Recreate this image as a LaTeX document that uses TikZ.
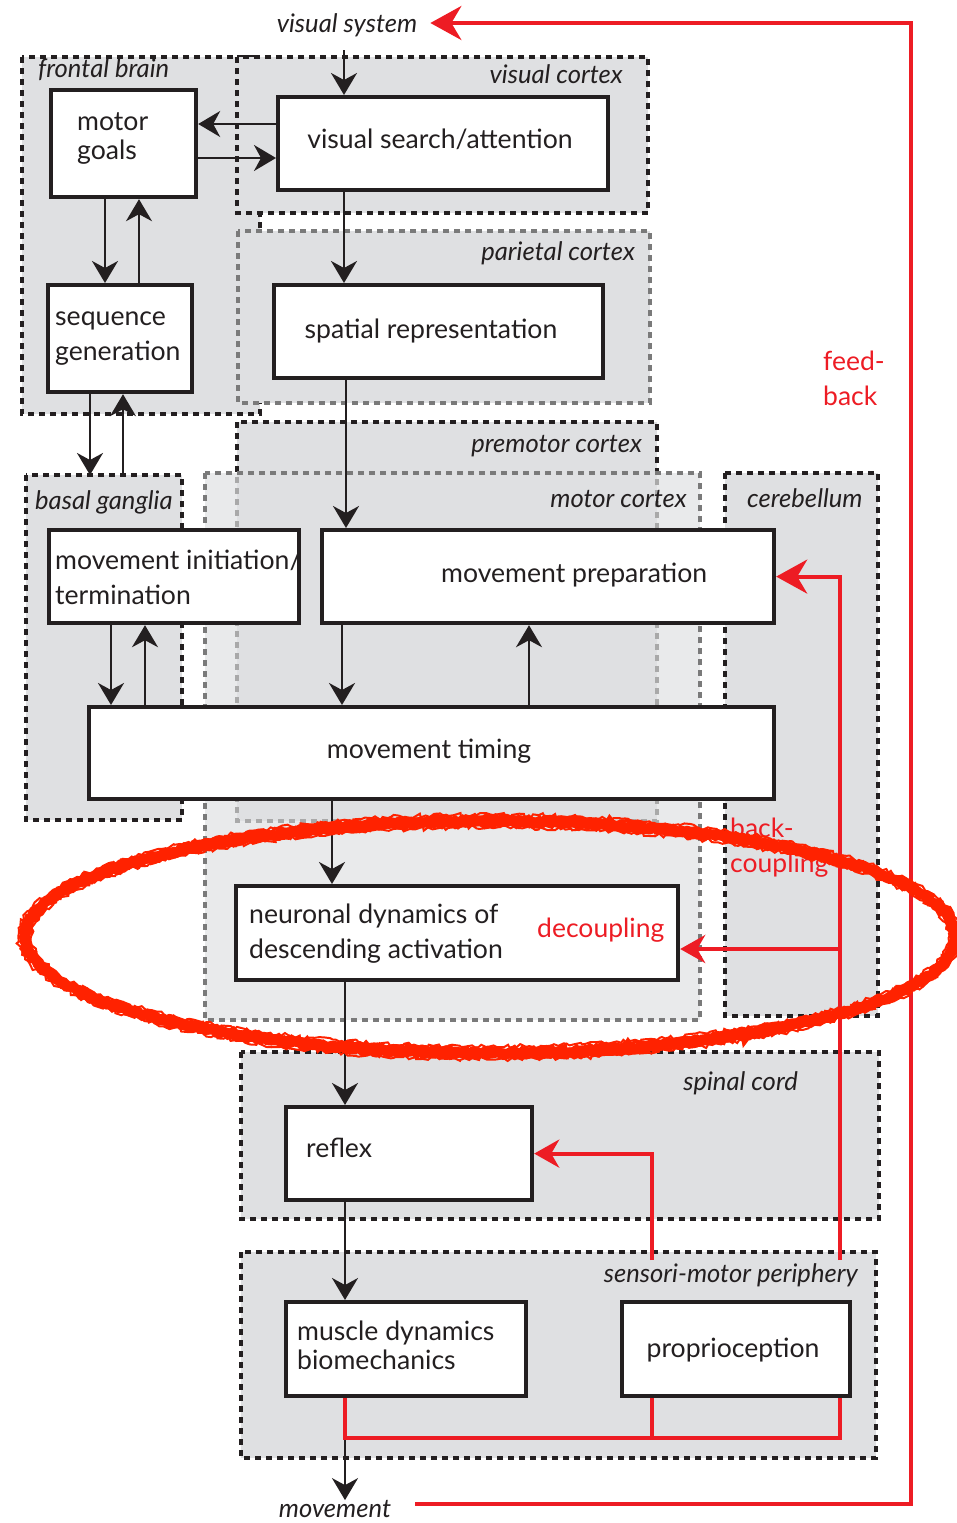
\documentclass[tikz,border=0pt]{standalone}
\usepackage{fontspec}
\setmainfont{Lato}
\usetikzlibrary{arrows.meta,decorations.pathmorphing}
\definecolor{ink}{HTML}{231F20}
\definecolor{regiongray}{HTML}{DFE0E2}
\definecolor{motorgray}{HTML}{E9EAEB}
\definecolor{dashgray}{HTML}{7A7A7A}
\definecolor{fadegray}{HTML}{A9A9A9}
\definecolor{fbred}{HTML}{ED1C24}
\definecolor{markred}{HTML}{FF2200}
\newcommand\twoline[2]{\begin{tabular}[t]{@{}l@{}}#1\\#2\end{tabular}}
\begin{document}
\begin{tikzpicture}[x=1pt,y=-1pt,
  region/.style={fill=regiongray, draw=ink, line width=4pt, dash pattern=on 6pt off 5pt},
  greyregion/.style={region, draw=dashgray},
  box/.style={draw=ink, fill=white, line width=4.2pt, anchor=north west, inner sep=0pt},
  txt/.style={font=\fontsize{26.6}{35}\selectfont, inner sep=0pt, text=ink},
  txtnarrow/.style={font=\fontsize{26.6}{29}\selectfont, inner sep=0pt, text=ink},
  lab/.style={font=\fontsize{25.6}{28}\selectfont\itshape, inner sep=0pt, text=ink},
  redtxt/.style={font=\fontsize{26.5}{35}\selectfont, inner sep=0pt, text=fbred},
  arr/.style={draw=ink, line width=2.2pt, -{Stealth[length=22pt, width=26pt, inset=7pt]}},
  redline/.style={draw=fbred, line width=4pt},
  redarr/.style={redline, -{Stealth[length=25pt, width=28pt, inset=8pt]}},
  bigredarr/.style={redline, -{Stealth[length=31pt, width=34pt, inset=10pt]}},
  rough/.style={draw=markred, decorate, decoration={random steps, segment length=4pt, amplitude=2.2pt}}
]
\useasboundingbox (0,0) rectangle (957,1523);

% ---------- brain regions ----------
\draw[region] (22,57) rectangle (260,414);          % frontal brain
\draw[region] (237,57) rectangle (648,213);         % visual cortex
\draw[greyregion] (238,231) rectangle (650,403);    % parietal cortex
\draw[region] (26,475) rectangle (182,820);         % basal ganglia
\fill[motorgray] (205,473) rectangle (700,1020);    % motor cortex (fill)
\fill[regiongray] (237,422) rectangle (657,821);    % premotor cortex (fill)
\draw[line width=4pt, draw=fadegray, dash pattern=on 6pt off 5pt] (237,422) rectangle (657,821);
\begin{scope}
  \clip (0,0) rectangle (957,473);
  \draw[line width=4pt, draw=ink, dash pattern=on 6pt off 5pt] (237,422) rectangle (657,821);
\end{scope}
\draw[line width=4pt, draw=dashgray, dash pattern=on 6pt off 5pt] (205,473) rectangle (700,1020); % motor cortex border
\draw[region] (725,473) rectangle (878,1016);       % cerebellum
\draw[region] (241,1052) rectangle (879,1219);      % spinal cord
\draw[region] (241,1252) rectangle (876,1458);      % sensori-motor periphery

% ---------- region labels ----------
\node[lab, anchor=center] (vsys) at (347,25) {visual system};
\node[lab, anchor=base west] (lfront) at (38,77) {frontal brain};
\node[lab, anchor=base east] (lvis) at (623,83) {visual cortex};
\node[lab, anchor=base east] (lpar) at (635,260) {parietal cortex};
\node[lab, anchor=base east] (lpre) at (642,452) {premotor cortex};
\node[lab, anchor=base east] (lmot) at (687,507) {motor cortex};
\node[lab, anchor=base west] (lcer) at (747,507) {cerebellum};
\node[lab, anchor=base west] (lbas) at (35,509) {basal ganglia};
\node[lab, anchor=base east] (lspi) at (798,1090) {spinal cord};
\node[lab, anchor=base east] (lper) at (858,1282) {sensori-motor periphery};
\node[lab, anchor=center] (mvt) at (335,1509) {movement};

% ---------- processing stages ----------
\node[box, minimum width=145pt, minimum height=107pt] (goals) at (49,88) {};
\node[box, minimum width=144pt, minimum height=107pt] (seq) at (46,283) {};
\node[box, minimum width=330pt, minimum height=93pt] (search) at (276,95) {};
\node[box, minimum width=329pt, minimum height=93pt] (spatial) at (272,283) {};
\node[box, minimum width=250pt, minimum height=93pt] (init) at (47,528) {};
\node[box, minimum width=452pt, minimum height=93pt] (prep) at (320,528) {};
\node[box, minimum width=685pt, minimum height=92pt] (timing) at (87,705) {};
\node[box, minimum width=442pt, minimum height=94pt] (neuronal) at (234,884) {};
\node[box, minimum width=246pt, minimum height=93pt] (reflex) at (284,1105) {};
\node[box, minimum width=240pt, minimum height=94pt] (muscle) at (284,1300) {};
\node[box, minimum width=228pt, minimum height=94pt] (proprio) at (620,1300) {};

\node[txtnarrow, anchor=base west] (tgoals) at (77,130) {\twoline{motor}{goals}};
\node[txt, anchor=base west] (tseq) at (55,325) {\twoline{sequence}{generation}};
\node[txt, anchor=base] (tsearch) at (440,148) {visual search/attention};
\node[txt, anchor=base] (tspatial) at (431,338) {spatial representation};
\node[txt, anchor=base west] (tinit) at (55,569) {\twoline{movement initiation/}{termination}};
\node[txt, anchor=base west] (tprep) at (441,582) {movement preparation};
\node[txt, anchor=base] (ttiming) at (429,758) {movement timing};
\node[txt, anchor=base west] (tneur) at (249,923) {\twoline{neuronal dynamics of}{descending activation}};
\node[txt, anchor=base west] (trefl) at (306,1157) {reflex};
\node[txtnarrow, anchor=base west] (tmus) at (297,1340) {\twoline{muscle dynamics}{biomechanics}};
\node[txt, anchor=base] (tprop) at (733,1357) {proprioception};

% red annotations
\node[redtxt, anchor=base west] (tfb) at (823,370) {\twoline{feed-}{back}};
\node[redtxt, anchor=base west] (tbc) at (730,837) {\twoline{back-}{coupling}};
\node[redtxt, anchor=base west] (tdc) at (537,937) {decoupling};

% ---------- lanes for the connectors ----------
\coordinate (lnV) at (344,0);
\coordinate (lnS) at (346,0);
\coordinate (lnGd) at (105,0);
\coordinate (lnGu) at (139,0);
\coordinate (lnBd) at (90,0);
\coordinate (lnBu) at (123,0);
\coordinate (lnId) at (111,0);
\coordinate (lnIu) at (145,0);
\coordinate (lnPd) at (342,0);
\coordinate (lnPu) at (529,0);
\coordinate (lnT) at (332,0);
\coordinate (lnN) at (345,0);
\coordinate (hy1) at (0,124);
\coordinate (hy2) at (0,158);
\coordinate (vctop) at (0,50);
\coordinate (bgtop) at (0,475);

% ---------- black connectors ----------
\draw[arr] (vctop -| lnV) -- (search.north -| lnV);
\draw[arr] (search.west |- hy1) -- (goals.east |- hy1);
\draw[arr] (goals.east |- hy2) -- (search.west |- hy2);
\draw[arr] (goals.south -| lnGd) -- (seq.north -| lnGd);
\draw[arr] (seq.north -| lnGu) -- (goals.south -| lnGu);
\draw[arr] (seq.south -| lnBd) -- (bgtop -| lnBd);
\draw[arr] (bgtop -| lnBu) -- (seq.south -| lnBu);
\draw[arr] (search.south -| lnV) -- (spatial.north -| lnV);
\draw[arr] (spatial.south -| lnS) -- (prep.north -| lnS);
\draw[arr] (init.south -| lnId) -- (timing.north -| lnId);
\draw[arr] (timing.north -| lnIu) -- (init.south -| lnIu);
\draw[arr] (prep.south -| lnPd) -- (timing.north -| lnPd);
\draw[arr] (timing.north -| lnPu) -- (prep.south -| lnPu);
\draw[arr] (timing.south -| lnT) -- (neuronal.north -| lnT);
\draw[arr] (neuronal.south -| lnN) -- (reflex.north -| lnN);
\draw[arr] (reflex.south -| lnN) -- (muscle.north -| lnN);
\draw[arr] (muscle.south -| lnN) -- (mvt.north -| lnN);

% ---------- red feedback loops ----------
\coordinate (fbx) at (911,0);
\coordinate (mvtR) at ([xshift=24pt,yshift=5pt]mvt.east);
\coordinate (vsysR) at ([xshift=13pt,yshift=2pt]vsys.east);
\coordinate (pp1) at (840,1260);
\coordinate (rf1) at (652,1260);
\coordinate (dc) at (840,949);
\coordinate (ubot) at (0,1438);
\coordinate (uR) at (840,0);
\coordinate (uM) at (652,0);

\draw[redline] (muscle.south -| lnN) -- (ubot -| lnN) -- (ubot -| uR) -- (proprio.south -| uR);
\draw[redline] (proprio.south -| uM) -- (ubot -| uM);
\draw[redarr] (rf1) |- (reflex.east);
\draw[bigredarr] (pp1) |- (prep.east);
\draw[redarr] (dc) -- (neuronal.east |- dc);
\draw[bigredarr] (mvtR) -- (mvtR -| fbx) |- (vsysR);

% ---------- hand-drawn loop around the decoupling stage ----------
\pgfmathsetseed{11}
\foreach \dr/\w in {0/10, 4/3.5, -4/3.5, 6.5/2, -6.5/2, 2.5/3, -2.5/3}
  \draw[rough, line width=\w pt] (490,937) ellipse [x radius=465+\dr, y radius=116+\dr];
\end{tikzpicture}
\end{document}
